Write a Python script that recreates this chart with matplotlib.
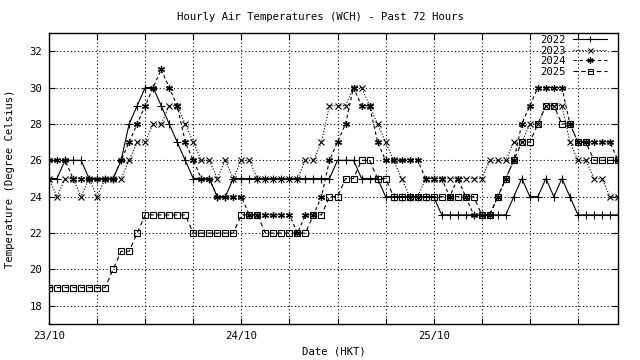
# Hourly air temperatures at WCH, past 72 hours, one line per year

import numpy as np
import pandas as pd
import matplotlib
matplotlib.use('Agg')
import matplotlib.pyplot as plt
import matplotlib.dates as mdates
from matplotlib.ticker import FuncFormatter

# hourly readings from 23/10 00:00 to 25/10 23:00
times = pd.date_range('2025-10-23 00:00', periods=72, freq='h')

t2022 = [25, 25, 26, 26, 26, 25, 25, 25, 25, 26,
         28, 29, 30, 30, 29, 28, 27, 26, 25, 25,
         25, 24, 24, 25, 25, 25, 25, 25, 25, 25,
         25, 25, 25, 25, 25, 25, 26, 26, 26, 25,
         25, 25, 24, 24, 24, 24, 24, 24, 24, 23,
         23, 23, 23, 23, 23, 23, 23, 23, 24, 25,
         24, 24, 25, 24, 25, 24, 23, 23, 23, 23,
         23, 23]

t2023 = [25, 24, 25, 25, 24, 25, 24, 25, 25, 25,
         26, 27, 27, 28, 28, 29, 29, 28, 27, 26,
         26, 25, 26, 25, 26, 26, 25, 25, 25, 25,
         25, 25, 26, 26, 27, 29, 29, 29, 30, 30,
         29, 28, 27, 26, 25, 24, 24, 25, 25, 25,
         25, 25, 25, 25, 25, 26, 26, 26, 27, 27,
         28, 28, 29, 29, 29, 27, 26, 26, 25, 25,
         24, 24]

t2024 = [26, 26, 26, 25, 25, 25, 25, 25, 25, 26,
         27, 28, 29, 30, 31, 30, 29, 27, 26, 25,
         25, 24, 24, 24, 24, 23, 23, 23, 23, 23,
         23, 22, 23, 23, 24, 26, 27, 28, 30, 29,
         29, 27, 26, 26, 26, 26, 26, 25, 25, 25,
         24, 25, 24, 23, 23, 23, 24, 25, 26, 28,
         29, 30, 30, 30, 30, 28, 27, 27, 27, 27,
         27, 26]

t2025 = [19, 19, 19, 19, 19, 19, 19, 19, 20, 21,
         21, 22, 23, 23, 23, 23, 23, 23, 22, 22,
         22, 22, 22, 22, 23, 23, 23, 22, 22, 22,
         22, 22, 22, 23, 23, 24, 24, 25, 25, 26,
         26, 25, 25, 24, 24, 24, 24, 24, 24, 24,
         24, 24, 24, 24, 23, 23, 24, 25, 26, 27,
         27, 28, 29, 29, 28, 28, 27, 27, 26, 26,
         26, 26]

plt.rcParams['font.family'] = 'DejaVu Sans Mono'
plt.rcParams['font.size'] = 7.7

fig = plt.figure(figsize=(6.4, 3.6), dpi=100)
ax = fig.add_axes([49/640, 36/360, 569/640, 291/360])

lw = 0.8
ax.plot(times, t2022, color='black', lw=lw, ls='-', marker='+', ms=5.5, mew=0.8, label='2022')
ax.plot(times, t2023, color='black', lw=lw, ls=(0, (1, 1.6)), marker='x', ms=4, mew=0.8, label='2023')
ax.plot(times, t2024, color='black', lw=lw, ls=(0, (3, 2.5)), marker=(6, 2, 0), ms=5, mew=0.9, label='2024')
ax.plot(times, t2025, color='black', lw=lw, ls=(0, (4, 3)), marker='s', ms=4, mew=0.8,
        mfc='none', label='2025')

ax.set_xlim(times[0], times[-1])
ax.set_ylim(17, 33)
ax.set_yticks(np.arange(18, 33, 2))

ax.xaxis.set_major_locator(mdates.HourLocator(byhour=[0, 6, 12, 18]))
ax.xaxis.set_major_formatter(FuncFormatter(
    lambda v, p: mdates.num2date(v).strftime('%d/%m') if mdates.num2date(v).hour == 0 else ''))

ax.grid(True, color='black', lw=0.8, ls=(0, (1, 2.2)))
ax.tick_params(direction='in', top=True, right=True, length=4, width=0.8, pad=5)
for s in ax.spines.values():
    s.set_linewidth(1)

fig.text(0.5, 1 - 17/360, 'Hourly Air Temperatures (WCH) - Past 72 Hours', ha='center', va='center')
fig.text(333.5/640, 1 - 352/360, 'Date (HKT)', ha='center', va='center')
fig.text(10/640, 1 - 178.5/360, 'Temperature (Degree Celsius)', ha='center', va='center', rotation=90)

ax.legend(loc='upper right', bbox_to_anchor=(607/640, 1 - 35/360), bbox_transform=fig.transFigure,
          frameon=False, markerfirst=False, handlelength=3.2, labelspacing=0.05,
          borderaxespad=0, borderpad=0, handletextpad=0.7, markerscale=0.9)

fig.savefig('out.png', dpi=100)
